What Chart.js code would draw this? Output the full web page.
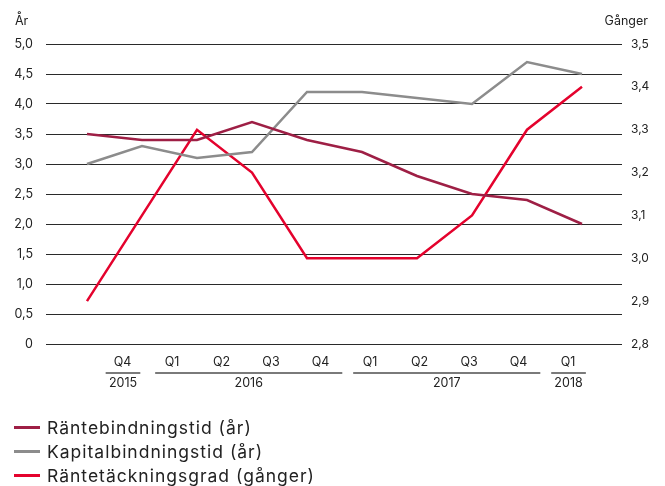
<!DOCTYPE html>
<html>
<head>
<meta charset="utf-8">
<script src="https://cdn.jsdelivr.net/npm/chart.js@4/dist/chart.umd.min.js"></script>
<style>
  html, body { margin: 0; padding: 0; background: #fff; overflow: hidden; }
  #wrap { width: 665px; height: 486px; position: relative; }
  #wrap canvas { display: block; }
  #legend {
    position: absolute; left: 14px; top: 415px; margin: 0; padding: 0; list-style: none;
    font-family: Inter, "Noto Sans", sans-serif; font-size: 17.5px; letter-spacing: 1px; color: #222;
  }
  #legend li { display: flex; align-items: center; height: 24.3px; white-space: nowrap; }
  #legend .sw { display: inline-block; width: 26px; height: 3px; margin-right: 7px; }
</style>
</head>
<body>
<div id="wrap"><canvas id="c"></canvas><ul id="legend"></ul></div>
<script>
// Quarter labels and the year each quarter belongs to
const quarters = ['Q4', 'Q1', 'Q2', 'Q3', 'Q4', 'Q1', 'Q2', 'Q3', 'Q4', 'Q1'];
const years = ['2015', '2016', '2016', '2016', '2016', '2017', '2017', '2017', '2017', '2018'];

// Series values
const rantebindningstid = [3.5, 3.4, 3.4, 3.7, 3.4, 3.2, 2.8, 2.5, 2.4, 2.0];
const kapitalbindningstid = [3.0, 3.3, 3.1, 3.2, 4.2, 4.2, 4.1, 4.0, 4.7, 4.5];
const rantetackningsgrad = [2.9, 3.1, 3.3, 3.2, 3.0, 3.0, 3.0, 3.1, 3.3, 3.4];

// Axis ticks
const leftTicks = [0, 0.5, 1, 1.5, 2, 2.5, 3, 3.5, 4, 4.5, 5];
const rightTicks = [2.8, 2.9, 3.0, 3.1, 3.2, 3.3, 3.4, 3.5];

const FONT = 'Inter, "Noto Sans", sans-serif';
const TEXT = '#222';

const fmt = (v) => v === 0 ? '0' : v.toFixed(1).replace('.', ',');
const toPoints = (arr) => arr.map((y, i) => ({ x: i, y }));

// Year underlines and year names below the quarter labels, plus unit captions
const yearRow = {
  id: 'yearRow',
  afterDraw(chart) {
    const { ctx, chartArea, scales } = chart;
    const sx = scales.xq;
    const groups = [];
    years.forEach((y, i) => {
      const g = groups[groups.length - 1];
      if (g && g.year === y) g.last = i; else groups.push({ year: y, first: i, last: i });
    });
    const lineY = chartArea.bottom + 29;
    ctx.save();
    groups.forEach(g => {
      const x0 = sx.getPixelForValue(g.first - 0.34);
      const x1 = sx.getPixelForValue(g.last + (g.first === g.last ? 0.36 : 0.44));
      ctx.strokeStyle = '#7a7a7a';
      ctx.lineWidth = 2;
      ctx.beginPath();
      ctx.moveTo(x0, lineY);
      ctx.lineTo(x1, lineY);
      ctx.stroke();
      ctx.fillStyle = TEXT;
      ctx.font = '12.5px ' + FONT;
      ctx.textAlign = 'center';
      ctx.textBaseline = 'middle';
      ctx.fillText(g.year, (x0 + x1) / 2, lineY + 10);
    });
    ctx.fillStyle = TEXT;
    ctx.font = '12.5px ' + FONT;
    ctx.textBaseline = 'middle';
    ctx.textAlign = 'left';
    ctx.fillText('År', 15, 21);
    ctx.textAlign = 'right';
    ctx.fillText('Gånger', 648, 21);
    ctx.restore();
  }
};

// Vertical legend built from the chart's own legend items
const listLegend = {
  id: 'listLegend',
  afterUpdate(chart) {
    const ul = document.getElementById('legend');
    ul.innerHTML = '';
    const items = Chart.defaults.plugins.legend.labels.generateLabels(chart);
    items.forEach(item => {
      const li = document.createElement('li');
      const sw = document.createElement('span');
      sw.className = 'sw';
      sw.style.background = item.strokeStyle;
      const tx = document.createElement('span');
      tx.textContent = item.text;
      li.appendChild(sw);
      li.appendChild(tx);
      ul.appendChild(li);
    });
  }
};

new Chart(document.getElementById('c'), {
  type: 'line',
  data: {
    datasets: [
      {
        label: 'Räntebindningstid (år)',
        data: toPoints(rantebindningstid),
        borderColor: '#9e1f45',
        backgroundColor: '#9e1f45',
        yAxisID: 'y',
        xAxisID: 'x'
      },
      {
        label: 'Kapitalbindningstid (år)',
        data: toPoints(kapitalbindningstid),
        borderColor: '#8c8c8c',
        backgroundColor: '#8c8c8c',
        yAxisID: 'y',
        xAxisID: 'x'
      },
      {
        label: 'Räntetäckningsgrad (gånger)',
        data: toPoints(rantetackningsgrad),
        borderColor: '#e4022d',
        backgroundColor: '#e4022d',
        yAxisID: 'y2',
        xAxisID: 'x'
      }
    ]
  },
  options: {
    responsive: true,
    maintainAspectRatio: false,
    animation: false,
    events: [],
    layout: { padding: { left: 7, right: 16, top: 44, bottom: 75 } },
    elements: {
      line: { borderWidth: 2.5, tension: 0, borderJoinStyle: 'miter' },
      point: { radius: 0 }
    },
    scales: {
      x: {
        type: 'linear',
        display: false,
        min: -0.745,
        max: 9.727
      },
      xq: {
        type: 'linear',
        position: 'bottom',
        min: -1.545,
        max: 10.09,
        grid: { display: false, drawTicks: false },
        border: { display: false },
        afterBuildTicks: (s) => { s.ticks = quarters.map((_, i) => ({ value: i })); },
        afterFit: (s) => { s.height += 30; },
        ticks: {
          autoSkip: false,
          maxRotation: 0,
          padding: 11,
          color: TEXT,
          font: { family: FONT, size: 12.5 },
          callback: (v) => quarters[v] ?? ''
        }
      },
      y: {
        position: 'left',
        min: 0,
        max: 5,
        afterBuildTicks: (s) => { s.ticks = leftTicks.map(v => ({ value: v })); },
        afterFit: (s) => { s.width = 39; },
        grid: { color: '#2a2a2a', lineWidth: 1, drawTicks: false },
        border: { display: false },
        ticks: {
          padding: 13,
          color: TEXT,
          font: { family: FONT, size: 12.5 },
          callback: (v) => fmt(v)
        }
      },
      y2: {
        position: 'right',
        min: 2.8,
        max: 3.5,
        afterBuildTicks: (s) => { s.ticks = rightTicks.map(v => ({ value: v })); },
        afterFit: (s) => { s.width = 27; },
        grid: { display: false, drawTicks: false },
        border: { display: false },
        ticks: {
          padding: 9,
          color: TEXT,
          font: { family: FONT, size: 12 },
          callback: (v) => v.toFixed(1).replace('.', ',')
        }
      }
    },
    plugins: {
      tooltip: { enabled: false },
      legend: { display: false }
    }
  },
  plugins: [yearRow, listLegend]
});
</script>
</body>
</html>
